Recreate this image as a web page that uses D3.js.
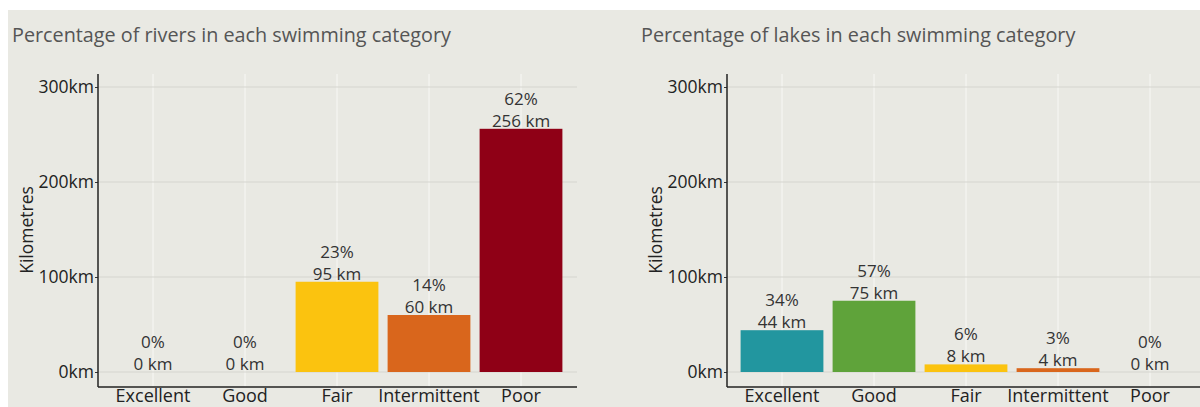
<!DOCTYPE html>
<html><head><meta charset="utf-8">
<script src="https://cdn.jsdelivr.net/npm/d3@7"></script>
<style>
html,body{margin:0;padding:0;background:#fff;}
svg{display:block;font-family:"Open Sans", sans-serif;}
</style></head>
<body>
<svg id="chart" width="1200" height="407"></svg>
<script>
const categories = ["Excellent","Good","Fair","Intermittent","Poor"];
const riverKm = [0, 0, 95, 60, 256];
const riverPct = [0, 0, 23, 14, 62];
const lakeKm = [44, 75, 8, 4, 0];
const lakePct = [34, 57, 6, 3, 0];
const yTicks = [0, 100, 200, 300];
const colors = ["#22969f", "#5fa33a", "#fbc30f", "#d9661c", "#8f0016"];
const titles = ["Percentage of rivers in each swimming category", "Percentage of lakes in each swimming category"];

const svg = d3.select("#chart");
svg.append("rect").attr("x",8).attr("y",10).attr("width",1192).attr("height",397).attr("fill","#e9e9e3");

function panel(ox, title, km, pct){
  const g = svg.append("g").attr("transform",`translate(${ox},0)`);
  const axX = 98, axR = 577, axTop = 74, axBot = 387;
  const y = d3.scaleLinear().domain([0,300]).range([372, 87]);
  const x = d3.scaleBand().domain(categories).range([107, 567]).paddingInner(0.1).paddingOuter(0.05);

  g.append("text").attr("x",12).attr("y",42).attr("fill","#555").attr("font-size",19.8).text(title);

  // vertical white grid
  g.selectAll(".vg").data(categories).join("line")
    .attr("x1",d=>x(d)+x.bandwidth()/2).attr("x2",d=>x(d)+x.bandwidth()/2)
    .attr("y1",axTop).attr("y2",axBot).attr("stroke","#f6f6f2").attr("stroke-width",1.2);
  // horizontal grid
  g.selectAll(".hg").data(yTicks).join("line")
    .attr("x1",axX).attr("x2",axR).attr("y1",d=>y(d)).attr("y2",d=>y(d))
    .attr("stroke","#d5d5cf").attr("stroke-width",1);

  // bars
  g.selectAll(".bar").data(categories).join("rect")
    .attr("x",d=>x(d)).attr("width",x.bandwidth())
    .attr("y",(d,i)=>y(km[i])).attr("height",(d,i)=>y(0)-y(km[i]))
    .attr("fill",(d,i)=>colors[i]);

  // labels
  categories.forEach((c,i)=>{
    const cx = x(c)+x.bandwidth()/2;
    const top = y(km[i]);
    g.append("text").attr("x",cx).attr("y",top-2).attr("text-anchor","middle")
      .attr("font-size",17).attr("fill","#333").text(km[i]+" km");
    g.append("text").attr("x",cx).attr("y",top-24).attr("text-anchor","middle")
      .attr("font-size",17).attr("fill","#333").text(pct[i]+"%");
  });

  // y axis
  const ya = g.append("g").attr("transform",`translate(${axX},0)`)
    .call(d3.axisLeft(y).tickValues(yTicks).tickFormat(d=>d+"km").tickSize(3).tickPadding(1));
  ya.select(".domain").remove();
  ya.selectAll("text").attr("font-size",17.5).attr("fill","#222").attr("font-family","'Open Sans', sans-serif");
  ya.selectAll(".tick line").attr("stroke","#333");
  g.append("line").attr("x1",axX).attr("x2",axX).attr("y1",axTop).attr("y2",axBot).attr("stroke","#222").attr("stroke-width",1.5);

  // x axis
  const xa = g.append("g").attr("transform",`translate(0,${axBot})`)
    .call(d3.axisBottom(x).tickSize(0).tickPadding(0));
  xa.select(".domain").remove();
  xa.selectAll("text").attr("font-size",18).attr("fill","#222").attr("font-family","'Open Sans', sans-serif")
    .attr("y",15).attr("dy","0");
  g.append("line").attr("x1",axX).attr("x2",axR).attr("y1",axBot).attr("y2",axBot).attr("stroke","#222").attr("stroke-width",1.5);

  g.append("text").attr("transform",`translate(33,230) rotate(-90)`).attr("text-anchor","middle")
    .attr("font-size",17.5).attr("fill","#222").text("Kilometres");
}
panel(0, titles[0], riverKm, riverPct);
panel(629, titles[1], lakeKm, lakePct);
</script>
</body></html>
